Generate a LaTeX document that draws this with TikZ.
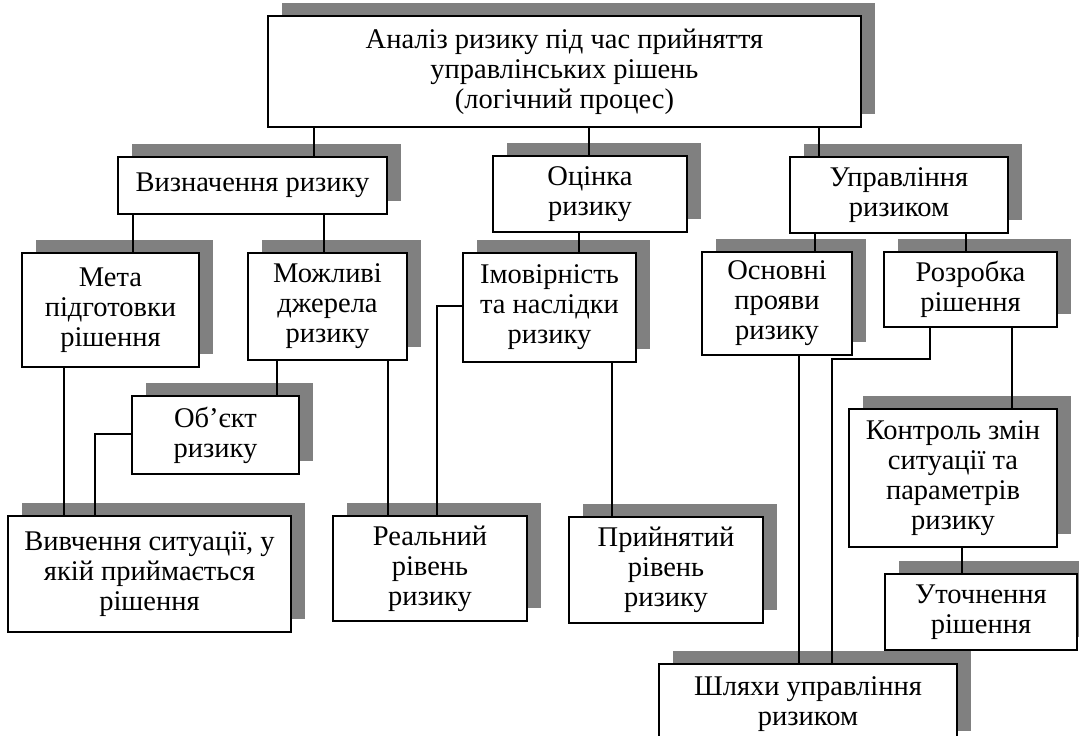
\documentclass[tikz,border=0pt]{standalone}
\usepackage{fontspec}
\setmainfont{Liberation Serif}
\usetikzlibrary{shadows}
\definecolor{shadowgray}{HTML}{808080}
\tikzset{
  box/.style={draw=black, fill=white, line width=1.2pt, inner sep=0pt, outer sep=0pt,
    anchor=north west, align=center,
    font=\fontsize{28.5pt}{30pt}\selectfont,
    drop shadow={shadow xshift=13.5pt, shadow yshift=13pt, fill=shadowgray, opacity=1}},
  conn/.style={draw=black, line width=1.3pt},
  thickconn/.style={draw=black, line width=2pt},
  thinconn/.style={draw=black, line width=1.1pt}
}
\begin{document}
\begin{tikzpicture}[x=1pt,y=1pt]
\useasboundingbox (0,0) rectangle (1079,-736);
\fill[white] (0,0) rectangle (1079,-736);

\node[box, minimum width=593pt, minimum height=111pt] (top) at (268,-16)
  {Аналіз ризику під час прийняття\\управлінських рішень\\(логічний процес)};
\node[box, minimum width=269pt, minimum height=57pt] (viz) at (118,-157) {Визначення ризику};
\node[box, minimum width=194pt, minimum height=76pt] (ocin) at (493,-156) {Оцінка\\ризику};
\node[box, minimum width=218pt, minimum height=76pt] (upr) at (790,-157) {Управління\\ризиком};
\node[box, minimum width=177pt, minimum height=114pt] (meta) at (22,-253) {Мета\\підготовки\\рішення};
\node[box, minimum width=159pt, minimum height=107pt] (mozh) at (248,-253) {Можливі\\джерела\\ризику};
\node[box, minimum width=173pt, minimum height=109pt] (imov) at (463,-253) {Імовірність\\та наслідки\\ризику};
\node[box, minimum width=150pt, minimum height=103pt] (osn) at (702,-252) {Основні\\прояви\\ризику};
\node[box, minimum width=173pt, minimum height=75pt] (rozr) at (884,-252) {Розробка\\рішення};
\node[box, minimum width=167pt, minimum height=78pt] (obj) at (132,-396) {Об’єкт\\ризику};
\node[box, minimum width=208pt, minimum height=138pt] (kontr) at (849,-409) {Контроль змін\\ситуації та\\параметрів\\ризику};
\node[box, minimum width=283pt, minimum height=116pt] (vyv) at (8,-516) {Вивчення ситуації, у\\якій приймається\\рішення};
\node[box, minimum width=194pt, minimum height=105pt] (real) at (333,-516) {Реальний\\рівень\\ризику};
\node[box, minimum width=194pt, minimum height=106pt] (pryin) at (569,-517) {Прийнятий\\рівень\\ризику};
\node[box, minimum width=192pt, minimum height=76pt] (utoch) at (885,-574) {Уточнення\\рішення};
\node[box, minimum width=298pt, minimum height=80pt] (shl) at (659,-664) {Шляхи управління\\ризиком};

% connectors
\draw[thickconn] (top.south -| 314,0) -- (viz.north -| 314,0);
\draw[conn] (top.south -| 589,0) -- (ocin.north -| 589,0);
\draw[conn] (top.south -| 819,0) -- (upr.north -| 819,0);
\draw[conn] (viz.south -| 133,0) -- (meta.north -| 133,0);
\draw[conn] (viz.south -| 324,0) -- (mozh.north -| 324,0);
\draw[conn] (ocin.south -| 579,0) -- (imov.north -| 579,0);
\draw[conn] (upr.south -| 815,0) -- (osn.north -| 815,0);
\draw[conn] (upr.south -| 966,0) -- (rozr.north -| 966,0);
\draw[thickconn] (meta.south -| 64,0) -- (vyv.north -| 64,0);
\draw[conn] (mozh.south -| 277,0) -- (obj.north -| 277,0);
\draw[thinconn] (obj.west |- 0,-434) -| (vyv.north -| 95,0);
\draw[conn] (mozh.south -| 388,0) -- (real.north -| 388,0);
\draw[thinconn] (imov.west |- 0,-306) -| (real.north -| 437,0);
\draw[conn] (imov.south -| 612,0) -- (pryin.north -| 612,0);
\draw[conn] (osn.south -| 799,0) -- (shl.north -| 799,0);
\draw[conn] (rozr.south -| 930,0) -- (930,-359) -| (shl.north -| 832,0);
\draw[conn] (rozr.south -| 1012,0) -- (kontr.north -| 1012,0);
\draw[conn] (kontr.south -| 962,0) -- (utoch.north -| 962,0);
\end{tikzpicture}
\end{document}
